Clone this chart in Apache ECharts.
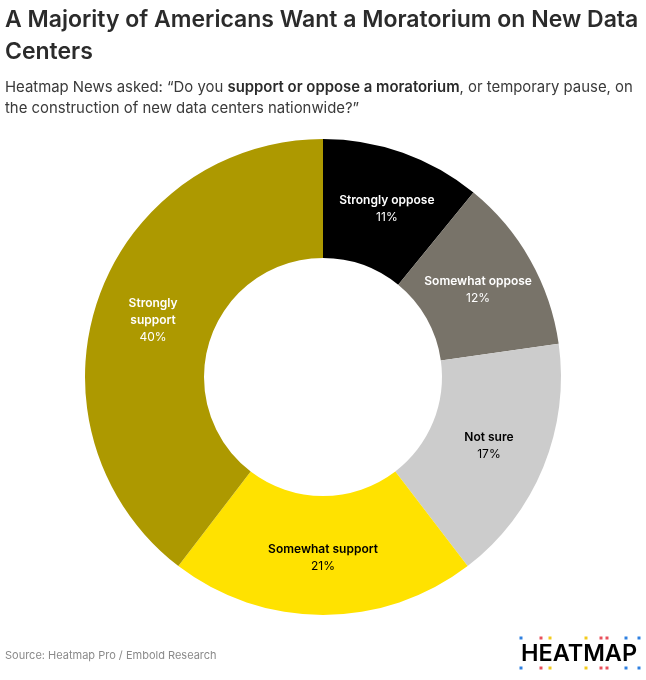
<!DOCTYPE html>
<html><head><meta charset="utf-8">
<style>html,body{margin:0;padding:0;background:#fff}#c{width:646px;height:680px}</style>
<script src="https://cdn.jsdelivr.net/npm/echarts@6/dist/echarts.min.js"></script>
</head><body><div id="c"></div>
<script>
const categories = ['Strongly oppose','Somewhat oppose','Not sure','Somewhat support','Strongly support'];
const values = [11,12,17,21,40];
const colors = ['#000000','#787369','#cccccc','#ffe200','#ad9900'];
const labelColors = ['#fff','#fff','#000','#000','#fff'];
const labelNudge = [[3,3],[-3,2],[-2,0],[0,-1],[2,2]];
const labelBreaks = {'Strongly support':'Strongly\nsupport'};
const titleLines = 'A Majority of Americans Want a Moratorium on New Data\nCenters';
const sourceText = 'Source: Heatmap Pro / Embold Research';
const logoDotsX = [[521,'#2f80e0'],[541,'#e8505b'],[550,'#f2cb1d'],[586,'#f2cb1d'],[601,'#e8505b'],[607,'#e8505b'],[626,'#2f80e0'],[639,'#2f80e0']];
const font = 'Inter';
const chart = echarts.init(document.getElementById('c'),null,{renderer:'canvas'});
const dots = [];
logoDotsX.forEach(([x,c])=>[638,668].forEach(y=>dots.push({type:'rect',shape:{x:x-1.5,y:y-1.5,width:3,height:3},style:{fill:c}})));
chart.setOption({
  animation:false,
  backgroundColor:'#fff',
  title:[
    {text:titleLines,left:5,top:4,padding:0,textStyle:{fontFamily:font,fontSize:23,fontWeight:600,color:'#2b2b2b',lineHeight:32,letterSpacing:-0.7}},
    {text:'{n|Heatmap News asked: “Do you }{b|support or oppose a moratorium}{n|, or temporary pause, on}\n{n|the construction of new data centers nationwide?”}',left:5,top:77,padding:0,
     textStyle:{fontWeight:400,rich:{n:{fontFamily:font,fontSize:14.9,fontWeight:400,color:'#3a3a3a',lineHeight:21},b:{fontFamily:font,fontSize:14.9,fontWeight:600,color:'#2b2b2b',lineHeight:21}}}},
    {text:sourceText,left:5,top:650,padding:0,textStyle:{fontFamily:font,fontSize:11,fontWeight:400,color:'#8a8a8a'}}
  ],
  series:[{
    type:'pie',center:[323,377],radius:[119,238],startAngle:90,clockwise:true,
    silent:true,
    itemStyle:{borderWidth:0},
    label:{position:'inside',show:true,fontFamily:font,
      formatter:p=>'{h|'+(labelBreaks[p.name]||p.name).split('\n').join('}\n{h|')+'}\n{v|'+p.value+'%}'},
    labelLine:{show:false},
    data:categories.map((n,i)=>({name:n,value:values[i],itemStyle:{color:colors[i]},
      label:{offset:labelNudge[i],rich:{h:{fontFamily:font,fontSize:12,fontWeight:600,color:labelColors[i],lineHeight:17,align:'center'},
                   v:{fontFamily:font,fontSize:12,fontWeight:400,color:labelColors[i],lineHeight:17,align:'center'}}}}))
  }],
  graphic:[...dots,
    {type:'text',x:579,y:654,style:{text:'HEATMAP',fontFamily:'Inter',fontSize:23.5,fontWeight:600,fill:'#000',align:'center',verticalAlign:'middle',letterSpacing:-0.5}}]
});
</script></body></html>
